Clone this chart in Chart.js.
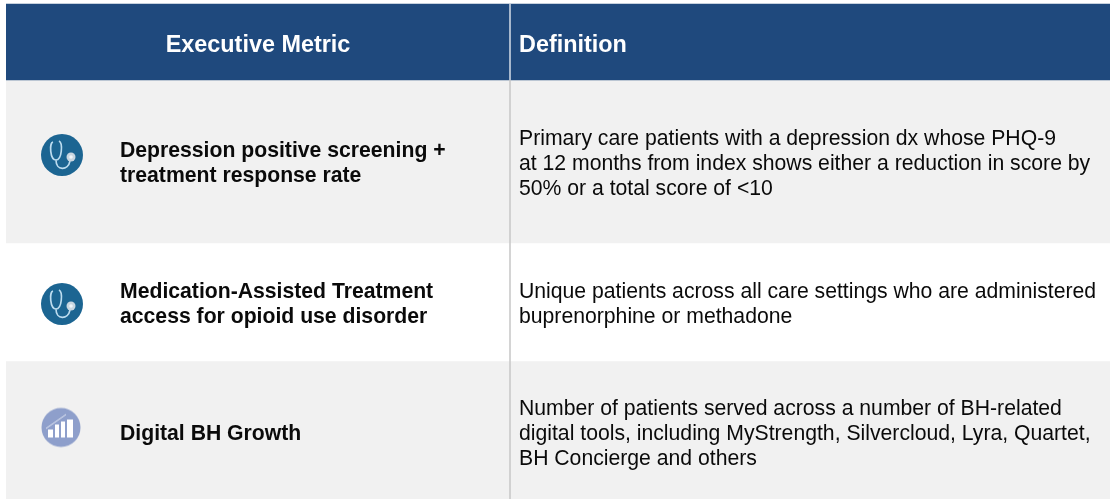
<!DOCTYPE html>
<html>
<head>
<meta charset="utf-8">
<title>Executive Metric definitions</title>
<script src="https://cdn.jsdelivr.net/npm/chart.js@4"></script>
<style>
    html, body { margin: 0; padding: 0; background: #fff; }
    canvas { display: block; }
</style>
</head>
<body>
<canvas id="tableChart" width="1110" height="499"></canvas>
<script>
// Table content
const headers = ['Executive Metric', 'Definition'];
const metrics = [
    ['Depression positive screening +', 'treatment response rate'],
    ['Medication-Assisted Treatment', 'access for opioid use disorder'],
    ['Digital BH Growth']
];
const definitions = [
    ['Primary care patients with a depression dx whose PHQ-9', 'at 12 months from index shows either a reduction in score by', '50% or a total score of <10'],
    ['Unique patients across all care settings who are administered', 'buprenorphine or methadone'],
    ['Number of patients served across a number of BH-related', 'digital tools, including MyStrength, Silvercloud, Lyra, Quartet,', 'BH Concierge and others']
];
const iconTypes = ['stethoscope', 'stethoscope', 'growth'];

// Row bands on the y scale (start, end)
const headerBand = [4, 80];
const rowBands = [[80, 243], [243, 361], [361, 499]];
const rowColors = ['#f1f1f1', '#ffffff', '#f1f1f1'];

// Layout, in scale units
const dividerX = 510;
const iconX = [62, 62, 61];
const iconY = [155, 304, 427.5];
const metricX = 120;
const definitionX = 519;
const headerCenterX = 258;
const headerBaseline = 52;
const metricBaseline = [169.5, 310, 440];
const definitionBaseline = [169.5, 310.3, 440];
const lineHeight = 25;

function makeIcon(type) {
    const c = document.createElement('canvas');
    c.width = 44;
    c.height = 44;
    const g = c.getContext('2d');
    g.filter = 'blur(0.5px)';
    g.beginPath();
    if (type === 'growth') {
        g.arc(22, 22, 19.5, 0, Math.PI * 2);
        g.fillStyle = '#8e9fcb';
        g.fill();
        g.fillStyle = '#ffffff';
        [[9, 24, 5, 8], [16, 19, 4, 13], [22, 16, 4, 16], [28, 14, 6, 18]].forEach(b => g.fillRect(b[0], b[1], b[2], b[3]));
        g.strokeStyle = '#e3e8f4';
        g.lineWidth = 1;
        g.beginPath();
        g.moveTo(7, 23);
        g.lineTo(27, 9);
        g.stroke();
    } else {
        g.arc(22, 22, 21, 0, Math.PI * 2);
        g.fillStyle = '#1c6592';
        g.fill();
        g.strokeStyle = '#bcdcef';
        g.lineWidth = 1.7;
        g.beginPath();
        g.moveTo(13, 9);
        g.bezierCurveTo(9, 10, 10, 27, 16, 27);
        g.bezierCurveTo(22, 27, 23, 10, 19, 8);
        g.moveTo(16, 27);
        g.bezierCurveTo(16, 38, 28, 38, 30, 28);
        g.stroke();
        g.fillStyle = '#c9d6e0';
        g.beginPath();
        g.arc(31, 24, 4.5, 0, Math.PI * 2);
        g.fill();
        g.fillStyle = '#f0f5f9';
        g.beginPath();
        g.arc(31, 24, 1.8, 0, Math.PI * 2);
        g.fill();
    }
    return c;
}

// Draws the table text at scale positions
const tableText = {
    id: 'tableText',
    afterDatasetsDraw(chart) {
        const ctx = chart.ctx;
        const xs = chart.scales.xp;
        const ys = chart.scales.y;
        const lines = (list, x, center) => {
            list.forEach((line, i) => {
                ctx.fillText(line, xs.getPixelForValue(x), ys.getPixelForValue(center + (i - (list.length - 1) / 2) * lineHeight));
            });
        };
        ctx.save();
        ctx.textBaseline = 'alphabetic';

        ctx.fillStyle = '#ffffff';
        ctx.font = 'bold 23.4px "Liberation Sans"';
        ctx.textAlign = 'center';
        ctx.fillText(headers[0], xs.getPixelForValue(headerCenterX), ys.getPixelForValue(headerBaseline));
        ctx.textAlign = 'left';
        ctx.fillText(headers[1], xs.getPixelForValue(definitionX), ys.getPixelForValue(headerBaseline));

        ctx.fillStyle = '#0a0a0a';
        ctx.font = 'bold 21.2px "Liberation Sans"';
        metrics.forEach((m, i) => lines(m, metricX, metricBaseline[i]));
        ctx.font = '21.2px "Liberation Sans"';
        definitions.forEach((d, i) => lines(d, definitionX, definitionBaseline[i]));
        ctx.restore();
    }
};

const bandDatasets = [headerBand].concat(rowBands).map((band, i) => ({
    type: 'bar',
    data: [band],
    backgroundColor: i === 0 ? '#1f497d' : rowColors[i - 1],
    barPercentage: 1,
    categoryPercentage: 1,
    grouped: false,
    order: 3,
    xAxisID: 'x',
    yAxisID: 'y'
}));

new Chart(document.getElementById('tableChart').getContext('2d'), {
    data: {
        labels: ['table'],
        datasets: bandDatasets.concat([
            {
                // Divider is lighter where it crosses the header
                type: 'scatter',
                data: [{ x: dividerX, y: headerBand[0] }, { x: dividerX, y: headerBand[1] }],
                showLine: true,
                borderColor: '#d5dde8',
                borderWidth: 1.5,
                pointRadius: 0,
                order: 2,
                xAxisID: 'xp',
                yAxisID: 'y'
            },
            {
                type: 'scatter',
                data: [{ x: dividerX, y: headerBand[1] }, { x: dividerX, y: 499 }],
                showLine: true,
                borderColor: '#c6c6c6',
                borderWidth: 1.5,
                pointRadius: 0,
                order: 2,
                xAxisID: 'xp',
                yAxisID: 'y'
            },
            {
                type: 'scatter',
                data: iconTypes.map((t, i) => ({ x: iconX[i], y: iconY[i] })),
                pointStyle: iconTypes.map(makeIcon),
                order: 1,
                xAxisID: 'xp',
                yAxisID: 'y'
            }
        ])
    },
    options: {
        responsive: false,
        animation: false,
        layout: { autoPadding: false, padding: { left: 6 } },
        plugins: {
            legend: { display: false },
            tooltip: { enabled: false }
        },
        scales: {
            x: { display: false },
            xp: { type: 'linear', axis: 'x', display: false, min: 6, max: 1110 },
            y: { display: false, reverse: true, min: 0, max: 499 }
        }
    },
    plugins: [tableText]
});
</script>
</body>
</html>
